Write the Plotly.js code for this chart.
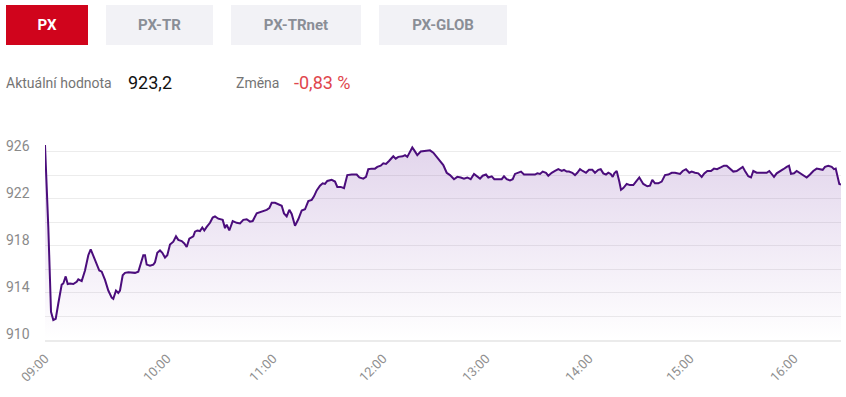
<!DOCTYPE html>
<html>
<head>
<meta charset="utf-8">
<script src="https://cdn.plot.ly/plotly-3.0.1.min.js"></script>
<style>
  html, body { margin:0; padding:0; background:#fff; width:846px; height:397px; overflow:hidden; font-family: Roboto, "Noto Sans", sans-serif; }
  #chart { position:absolute; left:0; top:0; width:846px; height:397px; }
  .btn { position:absolute; top:5px; height:40px; line-height:40px; text-align:center; font-weight:700; font-size:15px; color:#8a8e96; background:#f2f2f6; }
  .btn.active { background:#d0041c; color:#fff; }
  .info { position:absolute; top:72px; height:22px; line-height:22px; white-space:nowrap; }
  .lbl { font-size:14px; color:#747474; }
  .val { font-size:18px; color:#111; }
  .neg { font-size:18px; color:#e0464c; }
</style>
</head>
<body>
<div id="chart"></div>
<div class="btn active" style="left:6px;width:82px;">PX</div>
<div class="btn" style="left:106px;width:107px;">PX-TR</div>
<div class="btn" style="left:231px;width:130px;">PX-TRnet</div>
<div class="btn" style="left:379px;width:128px;">PX-GLOB</div>
<div class="info lbl" style="left:6px;">Aktuální hodnota</div>
<div class="info val" style="left:128px;">923,2</div>
<div class="info lbl" style="left:236px;">Změna</div>
<div class="info neg" style="left:294px;">-0,83 %</div>
<script>
// Position of each reading along the (ordinal) session axis
const pos = [
0,1.7,3.3,5,6,8.3,10.7,13.3,16.7,18.3,20.7,22.7,25,28.3,31.7,33.3,36.7,40,43.3,45.7,48.3,51.7,54.3,56.7,60,63.3,66.7,68.3,71,73.3,75,77.7,80,83.3,86.7,90,93.3,96,98.3,100,101.7,105,108.3,110,112.3,115,117.3,120,122.3,125,128.3,131,133.3,136.7,139.3,141.7,144.3,148.3,150,152.3,155,157.3,159.3,161.7,165,167.7,170,173.3,177.7,180,181.7,184.3,187.7,191.7,195,
198.3,201.7,205,207.7,211.7,215,218.3,221.7,224.3,226.7,230,233.3,236.7,239,241.7,244.3,246.7,250,253.3,256.7,260,263.3,266.7,269,271.7,275,277.7,280,282.3,286.7,290,292.3,295.7,299,302.3,306.7,311.7,314.3,318.3,321,323.3,326.7,330,332.3,335.7,338.3,341,344,348.3,350.7,353.3,357.7,360,362.3,365,367.3,369.3,372.3,375.7,379,381.7,385,388.3,391.7,395.7,
398.3,401.7,405,409,412.3,415.7,419,422.3,425.7,429,432.3,435,437.7,441,443.3,446.7,449.3,453.3,456.7,459,461.7,465,467.7,470,473,476,479,482.3,486.7,490,492.3,495,497.7,501,503.3,506.7,510,513.3,516.7,519,521.7,524,527.3,530,532.3,535,537.7,541,544,547.3,550,553.3,555.7,558.3,561,563.3,565.7,567.7,569.3,571.7,574.3,576,578.3,581.7,585,588.3,591,594.3,
598.3,602.3,605,607.3,610,613.3,616.7,620,623.3,626.7,630,632.3,635,637.7,641,644.3,646.7,650,653.3,656.7,659.3,662.3,666,669,672,675.7,679,681.7,685,688.3,691.7,695,697.7,700,703.3,706,708.3,711.7,715,718.3,721.7,724.3,726.7,729,731.7,735,738.3,741.7,744,746,749,751.7,755,758.3,761.7,765,768.3,771.7,775,777.7,780,783.3,786.7,789,790.7,792.3,794.3,796
];
const px = [
926.55,923.6,919.6,915.1,912.4,911.7,911.8,913.1,914.7,914.8,915.4,914.75,914.8,914.75,914.95,915.15,915.0,915.9,917.2,917.7,917.2,916.4,915.9,915.8,915.1,914.2,913.6,913.5,914.2,914.0,914.2,915.5,915.7,915.75,915.7,915.7,915.8,916.6,917.2,917.2,916.4,916.3,916.4,916.6,917.4,917.6,917.4,917.0,917.2,918.1,918.35,918.8,918.5,918.4,918.2,917.9,918.6,918.8,919.2,919.3,919.25,919.55,919.3,919.6,919.95,920.4,920.5,920.3,920.2,919.5,919.8,919.3,920.1,919.95,919.9,
920.2,920.25,920.05,920.1,920.75,920.85,921.0,921.05,921.2,921.65,921.65,921.5,921.4,920.75,920.5,921.05,920.7,919.7,920.25,921.0,921.1,921.8,921.9,922.2,922.7,923.1,923.3,923.25,923.5,923.6,923.45,923.0,923.0,922.9,924.0,924.05,924.05,923.8,923.7,923.85,924.5,924.55,924.55,924.7,924.8,925.0,924.95,925.2,925.6,925.4,925.55,925.6,925.7,925.55,926.05,926.35,926.1,925.7,926.0,926.05,926.1,926.1,925.9,925.55,925.2,
924.85,924.2,924.0,923.65,923.85,923.8,923.7,923.8,923.65,924.1,923.9,923.7,923.95,924.05,923.8,923.9,923.65,923.65,923.65,923.9,923.65,923.55,923.65,924.1,924.2,924.3,924.05,924.05,924.05,924.05,924.15,924.1,924.3,924.2,923.95,924.2,924.35,924.5,924.35,924.45,924.3,924.3,924.2,924.0,924.2,924.5,924.35,924.2,924.45,924.45,924.2,924.45,924.5,924.15,924.05,924.2,924.1,923.85,924.15,924.35,923.45,922.75,922.9,923.25,923.15,923.15,923.45,923.8,923.25,
923.05,923.1,923.6,923.3,923.3,923.45,924.0,924.05,924.2,924.2,924.15,924.1,924.35,924.5,924.2,924.3,924.2,924.15,923.85,924.15,924.35,924.35,924.55,924.5,924.65,924.8,924.8,924.55,924.3,924.35,924.55,924.7,924.35,923.9,923.8,924.35,924.2,924.2,924.25,924.2,924.35,924.1,923.85,924.15,924.3,924.5,924.7,924.8,924.1,924.15,924.35,924.15,923.95,923.8,924.05,924.35,924.55,924.5,924.45,924.7,924.8,924.7,924.5,924.55,923.85,923.25,923.2
];
const hourTicks = [0,122,228,338,441,544,645,749];
const hourLabels = ['09:00','10:00','11:00','12:00','13:00','14:00','15:00','16:00'];
const yTicks = [910,914,918,922,926];

const n = Math.min(pos.length, px.length);
const trace = {
  x: pos.slice(0,n), y: px.slice(0,n),
  type:'scatter', mode:'lines',
  line:{color:'#4b0d7c', width:2, shape:'linear'},
  fill:'tozeroy',
  fillgradient:{type:'vertical', start:910, stop:926.5,
    colorscale:[[0,'rgba(110,45,160,0.0)'],[1,'rgba(110,45,160,0.2)']]},
  hoverinfo:'skip'
};
const yLabelAnn = yTicks.map(v => ({
  xref:'paper', x:0, xanchor:'right', xshift:-14,
  yref:'y', y:v, yanchor:'middle', yshift:6,
  text:String(v), showarrow:false, borderpad:0,
  font:{family:'Roboto, sans-serif', size:14, color:'#8a8a8a'}
}));
const layout = {
  width:846, height:397,
  margin:{l:45, r:5, t:128, b:57},
  paper_bgcolor:'rgba(0,0,0,0)', plot_bgcolor:'#fff',
  showlegend:false,
  font:{family:'Roboto, sans-serif'},
  annotations: yLabelAnn,
  xaxis:{range:[0,796], tickvals:hourTicks, ticktext:hourLabels, tickangle:-45,
    showgrid:false, zeroline:false, showline:true, linecolor:'#ebebeb', linewidth:2,
    ticks:'', ticklabelstandoff:4, tickfont:{size:13, color:'#8f8f8f'}},
  yaxis:{range:[910,928], tickvals:yTicks, showticklabels:false,
    showgrid:true, gridcolor:'#ececec', gridwidth:1, zeroline:false, showline:false,
    ticks:'',
    minor:{dtick:2, tick0:910, showgrid:true, gridcolor:'#ececec', gridwidth:1}}
};
Plotly.newPlot('chart',[trace],layout,{displayModeBar:false, staticPlot:true});
</script>
</body>
</html>
